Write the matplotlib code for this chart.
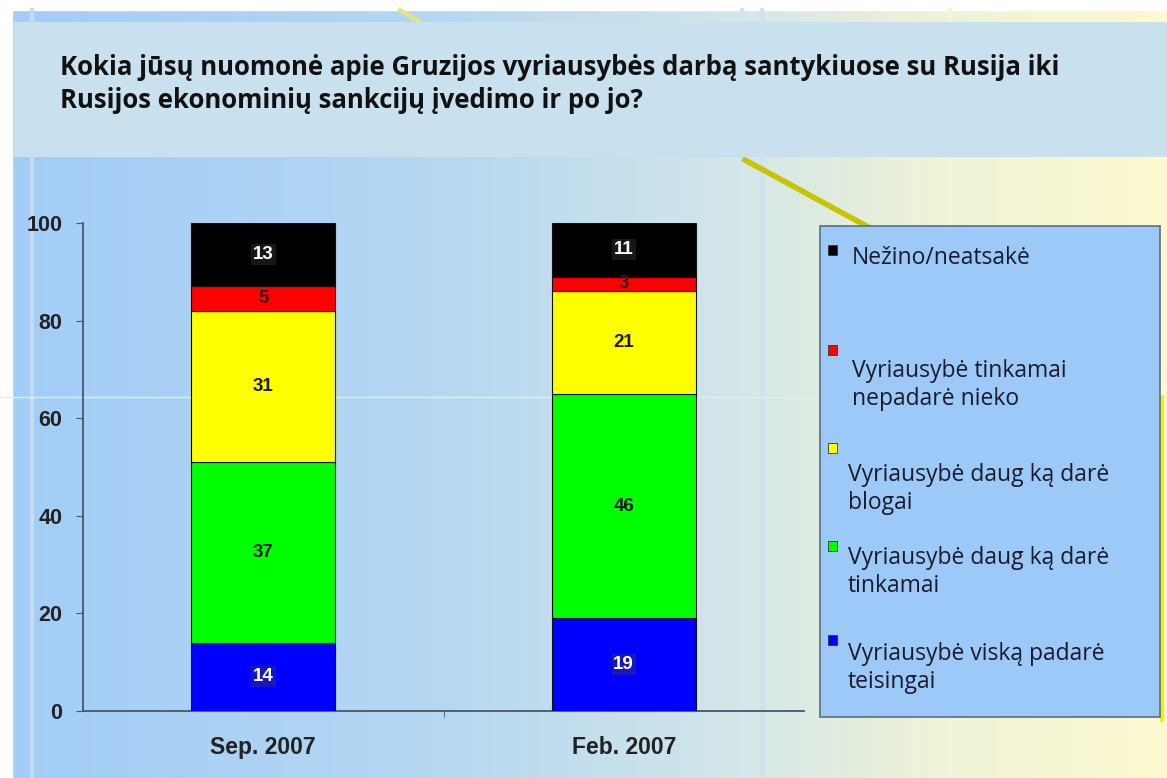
import matplotlib.pyplot as plt
import matplotlib as mpl
import numpy as np
from matplotlib.patches import Rectangle
from matplotlib.colors import LinearSegmentedColormap

# ---------- data ----------
periods = ["Sep. 2007", "Feb. 2007"]
series_names = [
    "Vyriausybė viską padarė\nteisingai",
    "Vyriausybė daug ką darė\ntinkamai",
    "Vyriausybė daug ką darė\nblogai",
    "Vyriausybė tinkamai\nnepadarė nieko",
    "Nežino/neatsakė",
]
teisingai = [14, 19]
tinkamai = [37, 46]
blogai = [31, 21]
nieko = [5, 3]
nezino = [13, 11]

title = ("Kokia jūsų nuomonė apie Gruzijos vyriausybės darbą santykiuose su Rusija iki\n"
         "Rusijos ekonominių sankcijų įvedimo ir po jo?")

colors = ["#0000ff", "#00ff00", "#ffff00", "#ff0000", "#000000"]
label_colors = ["white", "#1a1a1a", "#1a1a1a", "#3a1a1a", "white"]

W, H = 1167, 778
fig = plt.figure(figsize=(W / 100, H / 100), dpi=100)

# ---------- background ----------
bg = fig.add_axes([0, 0, 1, 1], zorder=0)
bg.set_xlim(0, W)
bg.set_ylim(H, 0)
bg.axis("off")
cmap = LinearSegmentedColormap.from_list(
    "bg", [(0, "#a3cdf7"), (0.35, "#b3d6f2"), (0.6, "#cfe4ea"), (0.8, "#eef2d8"), (1, "#fdf9cf")])
grad = np.linspace(0, 1, 256).reshape(1, -1)
bg.imshow(grad, cmap=cmap, extent=[0, W, H, 0], aspect="auto", zorder=0)
bg.add_patch(Rectangle((0, 0), W, 10, color="white", zorder=1))
bg.add_patch(Rectangle((0, 0), 12, H, color="white", zorder=1))
# decorative slide lines
for x0, c in [(32, "#c4dcf0"), (742, "#d2e6f2"), (762, "#cfe3ee"), (950, "#f6f4d8")]:
    bg.plot([x0, x0], [10, H], color=c, lw=3, zorder=1)
bg.plot([745, 870], [160, 228], color="#c8c400", lw=4, zorder=2)
bg.plot([400, 430], [10, 28], color="#e8e480", lw=3, zorder=2)
bg.plot([0, W], [397, 397], color="#e2eef6", lw=1, zorder=2)
bg.plot([1162, 1162], [397, 720], color="#f2ee00", lw=3, zorder=2)

# title panel
bg.add_patch(Rectangle((14, 22), W - 14, 135, facecolor="#c9e0ee", edgecolor="none", zorder=3))
bg.text(60, 84, title, fontsize=18.5, fontweight="bold", family=["Open Sans", "DejaVu Sans"],
        color="#111111", va="center", ha="left", linespacing=1.3, zorder=4)

# legend panel
bg.add_patch(Rectangle((820, 226), 340, 491, facecolor="#9cc9f8", edgecolor="#5a6e80",
                       lw=1.2, zorder=3))

# ---------- chart ----------
ax = fig.add_axes([83 / W, 67 / H, 721 / W, 488 / H], zorder=2)
ax.patch.set_alpha(0)
x = np.arange(len(periods))
stack = [teisingai, tinkamai, blogai, nieko, nezino]
bottom = np.zeros(len(periods))
for vals, col, lc in zip(stack, colors, label_colors):
    vals = np.array(vals)
    ax.bar(x, vals, 0.4, bottom=bottom, color=col, edgecolor="#111111", lw=0.8, zorder=3)
    for xi, v, b in zip(x, vals, bottom):
        box = dict(boxstyle="square,pad=0.1", fc="#444444", ec="none", alpha=0.35) if lc == "white" else None
        ax.text(xi, b + v / 2, str(v), ha="center", va="center", fontsize=13.5,
                fontweight="bold", family="Liberation Sans", color=lc, bbox=box, zorder=4)
    bottom += vals

ax.set_xlim(-0.5, 1.5)
ax.set_ylim(0, 100)
ax.set_yticks([0, 20, 40, 60, 80, 100])
ax.set_xticks([0.5], minor=True)
ax.set_xticks(x)
ax.set_xticklabels(periods)
ax.tick_params(axis="x", which="major", length=0, pad=18)
ax.tick_params(axis="x", which="minor", length=4, direction="out", color="#44586a")
ax.tick_params(axis="y", length=5, color="#44586a", pad=10)
for lab in ax.get_xticklabels():
    lab.set_fontsize(16.5)
for lab in ax.get_yticklabels():
    lab.set_fontsize(15.5)
for lab in ax.get_xticklabels() + ax.get_yticklabels():
    lab.set_fontweight("bold")
    lab.set_family("Liberation Sans")
    lab.set_color("#222222")
for s in ["top", "right"]:
    ax.spines[s].set_visible(False)
for s in ["left", "bottom"]:
    ax.spines[s].set_color("#44586a")
    ax.spines[s].set_linewidth(1.3)

# ---------- legend entries ----------
leg_y = [(668, 640), (572, 546), (489, 448), (385, 350), (258, 250)]
leg_x = [848, 848, 848, 852, 852]
for name, col, (ty, sy), tx in zip(series_names, colors, leg_y, leg_x):
    bg.add_patch(Rectangle((828, sy - 5), 9, 10, facecolor=col, edgecolor="#333333",
                           lw=0.6, zorder=5))
    bg.text(tx, ty, name, fontsize=16.5, family=["Open Sans", "DejaVu Sans"], color="#1a1a2a",
            va="center", ha="left", linespacing=1.2, zorder=5)

fig.savefig("out.png", dpi=100)
